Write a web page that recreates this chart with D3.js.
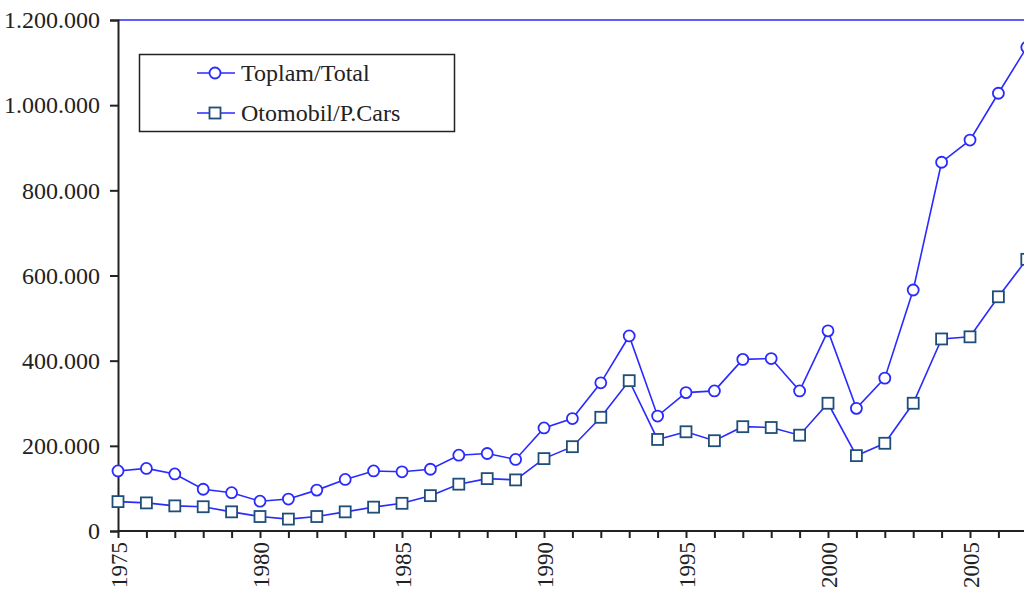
<!DOCTYPE html>
<html>
<head>
<meta charset="utf-8">
<script src="https://cdn.jsdelivr.net/npm/d3@7"></script>
<style>
  body { margin: 0; background: #fff; }
  svg { display: block; }
  text { font-family: "Liberation Serif", "Times New Roman", serif; fill: #222; }
</style>
</head>
<body>
<div id="chart"></div>
<script>
// data
var years = d3.range(1975, 2008);
var total = [141000, 147000, 134000, 98000, 90000, 70000, 75000, 96000, 121000, 141000, 139000, 145000,
  178000, 182000, 168000, 242000, 264000, 348000, 458000, 270000, 325000, 329000, 403000, 405000,
  329000, 470000, 288000, 359000, 566000, 866000, 918000, 1028000, 1136000];
var cars = [69000, 66000, 59000, 57000, 45000, 34000, 28000, 34000, 45000, 56000, 65000, 83000,
  110000, 123000, 120000, 170000, 198000, 267000, 353000, 215000, 233000, 212000, 245000, 243000,
  225000, 300000, 177000, 206000, 300000, 451000, 456000, 550000, 638000];
var yTicks = [0, 200000, 400000, 600000, 800000, 1000000, 1200000];
var labelYears = [1975, 1980, 1985, 1990, 1995, 2000, 2005];
var seriesNames = ["Toplam/Total", "Otomobil/P.Cars"];

var W = 1024, H = 594;
var margin = {top: 20, left: 118, bottom: 63};
var plotBottom = H - margin.bottom; // 531

var x = d3.scaleLinear().domain([1975, 2005]).range([118, 970]);
var y = d3.scaleLinear().domain([0, 1200000]).range([plotBottom, margin.top]);

var lineBlue = "#2a2aff",
  squareStroke = "#1f4e79";

var svg = d3.select("#chart").append("svg")
  .attr("width", W)
  .attr("height", H);

var fmt = function(d) { return d3.format(",")(d).replace(/,/g, "."); };

// top border line
svg.append("line")
  .attr("x1", x(1975)).attr("x2", W)
  .attr("y1", y(1200000)).attr("y2", y(1200000))
  .attr("stroke", lineBlue)
  .attr("stroke-width", 1.5);

// y axis
var yAxis = svg.append("g")
  .attr("transform", "translate(" + x(1975) + ",0)")
  .call(d3.axisLeft(y).tickValues(yTicks).tickFormat(fmt).tickSize(8).tickPadding(10));
yAxis.select(".domain").attr("stroke", "#222").attr("stroke-width", 2);
yAxis.selectAll(".tick line").attr("stroke", "#222").attr("stroke-width", 2);
yAxis.selectAll("text")
  .attr("font-size", 24)
  .attr("font-family", "Liberation Serif");

// x axis (a tick every year, label every 5)
var xAxis = svg.append("g")
  .attr("transform", "translate(0," + plotBottom + ")")
  .call(d3.axisBottom(x).tickValues(years).tickSize(7).tickSizeOuter(0)
    .tickFormat(function(d) { return labelYears.indexOf(d) >= 0 ? d : ""; }));
xAxis.select(".domain").attr("stroke", "#222").attr("stroke-width", 2)
  .attr("d", "M" + x(1975) + ",0H" + W);
xAxis.selectAll(".tick line").attr("stroke", "#222").attr("stroke-width", 2);
xAxis.selectAll("text")
  .attr("font-size", 23)
  .attr("font-family", "Liberation Serif")
  .attr("transform", "rotate(-90)")
  .attr("text-anchor", "end")
  .attr("x", -11)
  .attr("y", 0)
  .attr("dy", "0.35em");

var line = d3.line()
  .x(function(d) { return x(d[0]); })
  .y(function(d) { return y(d[1]); });

var totalPts = years.map(function(yr, i) { return [yr, total[i]]; });
var carPts = years.map(function(yr, i) { return [yr, cars[i]]; });

// lines
svg.append("path").datum(totalPts)
  .attr("d", line).attr("fill", "none")
  .attr("stroke", lineBlue).attr("stroke-width", 1.6);
svg.append("path").datum(carPts)
  .attr("d", line).attr("fill", "none")
  .attr("stroke", lineBlue).attr("stroke-width", 1.6);

// markers
svg.selectAll(".circ").data(totalPts)
  .enter().append("circle")
  .attr("class", "circ")
  .attr("cx", function(d) { return x(d[0]); })
  .attr("cy", function(d) { return y(d[1]); })
  .attr("r", 5.5)
  .attr("fill", "#fff")
  .attr("stroke", lineBlue)
  .attr("stroke-width", 1.8);

svg.selectAll(".sq").data(carPts)
  .enter().append("rect")
  .attr("class", "sq")
  .attr("x", function(d) { return x(d[0]) - 5.5; })
  .attr("y", function(d) { return y(d[1]) - 5.5; })
  .attr("width", 11)
  .attr("height", 11)
  .attr("fill", "#fff")
  .attr("stroke", squareStroke)
  .attr("stroke-width", 1.8);

// legend
var legend = svg.append("g");
legend.append("rect")
  .attr("x", 139.5).attr("y", 54.5)
  .attr("width", 315).attr("height", 77)
  .attr("fill", "#fff")
  .attr("stroke", "#222")
  .attr("stroke-width", 1.5);

seriesNames.forEach(function(name, i) {
  var ly = 73 + i * 40;
  legend.append("line")
    .attr("x1", 197).attr("x2", 235)
    .attr("y1", ly).attr("y2", ly)
    .attr("stroke", lineBlue).attr("stroke-width", 1.6);
  if (i == 0) {
    legend.append("circle")
      .attr("cx", 215).attr("cy", ly).attr("r", 5.5)
      .attr("fill", "#fff").attr("stroke", lineBlue).attr("stroke-width", 1.8);
  } else {
    legend.append("rect")
      .attr("x", 209.5).attr("y", ly - 5.5).attr("width", 11).attr("height", 11)
      .attr("fill", "#fff").attr("stroke", squareStroke).attr("stroke-width", 1.8);
  }
  legend.append("text")
    .attr("x", 241)
    .attr("y", ly)
    .attr("dy", "0.35em")
    .attr("font-size", 24)
    .text(name);
});
</script>
</body>
</html>
